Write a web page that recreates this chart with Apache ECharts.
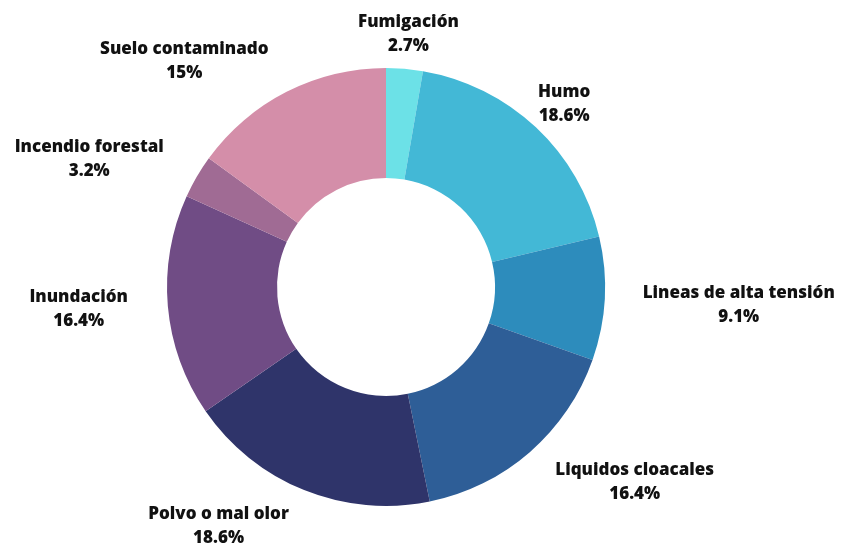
<!DOCTYPE html>
<html>
<head>
<meta charset="utf-8">
<script src="https://cdn.jsdelivr.net/npm/echarts@6/dist/echarts.min.js"></script>
<style>html,body{margin:0;padding:0;background:#fff;}#c{width:842px;height:544px;}</style>
</head>
<body>
<div id="c"></div>
<script>
const categories = ['Fumigación', 'Humo', 'Lineas de alta tensión', 'Liquidos cloacales', 'Polvo o mal olor', 'Inundación', 'Incendio forestal', 'Suelo contaminado'];
const values = [2.7, 18.6, 9.1, 16.4, 18.6, 16.4, 3.2, 15];
const colors = ['#6ce1e7', '#43b8d6', '#2d8cbc', '#2e5e97', '#2f346a', '#704c85', '#a06b94', '#d48ea9'];

// label nudges (style only)
const labelNudge = [[-2, -13], [-17, -7], [12, 5], [7, 13], [-3, 16], [-14, 1], [-10, -6], [-4, -11]];

const chart = echarts.init(document.getElementById('c'), null, {renderer: 'canvas'});
chart.setOption({
  backgroundColor: '#ffffff',
  animation: false,
  series: [{
    type: 'pie',
    center: [386, 287],
    radius: [109, 219],
    startAngle: 90,
    clockwise: true,
    avoidLabelOverlap: false,
    data: categories.map((n, i) => ({name: n, value: values[i], itemStyle: {color: colors[i]}})),
    label: {
      show: true,
      position: 'outside',
      formatter: p => '{a|' + p.name + '}\n{a|' + p.value + '%}',
      distanceToLabelLine: 4,
      rich: {
        a: {align: 'center', fontFamily: 'Open Sans', fontWeight: 800, fontSize: 17, lineHeight: 24, color: '#111111'}
      }
    },
    labelLine: {show: false, length: 22, length2: 0},
    labelLayout: p => {
      const n = labelNudge[p.dataIndex];
      const o = {dx: n[0], dy: n[1]};
      if (p.dataIndex === 0) o.align = 'center';
      return o;
    }
  }]
});
</script>
</body>
</html>
